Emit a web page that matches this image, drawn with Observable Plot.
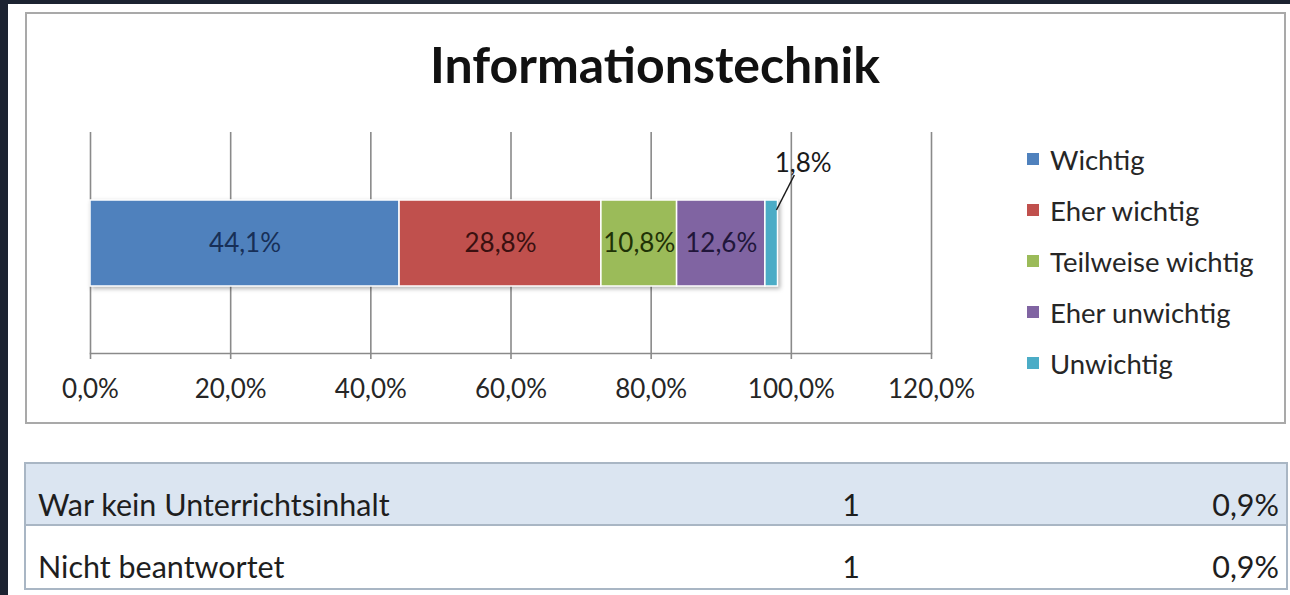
<!DOCTYPE html>
<html>
<head>
<meta charset="utf-8">
<script src="https://cdn.jsdelivr.net/npm/d3@7"></script>
<script src="https://cdn.jsdelivr.net/npm/@observablehq/plot@0.6"></script>
<style>
  html, body { margin: 0; padding: 0; background: #1c2331; }
  #page { position: relative; width: 1290px; height: 595px; overflow: hidden; background: #1c2331; font-family: Lato, "Open Sans", sans-serif; }
  #panel { position: absolute; left: 8px; top: 4px; right: 0; bottom: 0; background: #ffffff; }
  #box { position: absolute; left: 25px; top: 12px; width: 1261px; height: 412px; box-sizing: border-box; border: 2px solid #a9a9a9; }
  #title { position: absolute; left: 0; width: 1310px; top: 39px; text-align: center; font-size: 50px; line-height: 50px; font-weight: 700; color: #111; }
  #chart { position: absolute; left: 0; top: 0; }
  .leg { position: absolute; left: 1027px; height: 30px; display: flex; align-items: center; font-size: 27.5px; color: #262626; white-space: nowrap; }
  .leg .sw { width: 12px; height: 12px; margin-right: 11px; flex: none; }
  #tbl { position: absolute; left: 24px; top: 462px; width: 1264px; border-collapse: collapse; font-size: 30.5px; line-height: 30px; color: #1e1e1e; }
  #tbl td { border-top: 2px solid #a9b6c4; border-bottom: 2px solid #a9b6c4; padding: 0 0 5px 0; vertical-align: bottom; white-space: nowrap; }
  #tbl tr:first-child td { background: #dbe5f1; height: 55px; }
  #tbl tr:last-child td { height: 55px; padding-bottom: 7px; }
  #tbl td.c1 { padding-left: 12px; width: 664px; border-left: 2px solid #a9b6c4; }
  #tbl td.c2 { text-align: right; width: 158px; }
  #tbl td.c3 { text-align: right; padding-right: 7px; border-right: 2px solid #a9b6c4; }
</style>
</head>
<body>
<div id="page">
  <div id="panel"></div>
  <div id="box"></div>
  <div id="title"></div>
  <div id="chart"></div>
  <div id="legend"></div>
  <table id="tbl"></table>
</div>
<script>
// ---- data ----
const chartTitle = "Informationstechnik";
const category = "Informationstechnik";
const seriesNames = ["Wichtig", "Eher wichtig", "Teilweise wichtig", "Eher unwichtig", "Unwichtig"];
const seriesValues = [44.1, 28.8, 10.8, 12.6, 1.8];
const seriesColors = ["#4f81bd", "#c0504d", "#9bbb59", "#8064a2", "#4bacc6"];
const labelColors = ["#172f57", "#3a1010", "#1f3206", "#21163a", "#1a1a1a"];
const tickValues = [0, 20, 40, 60, 80, 100, 120];
const tickLabels = ["0,0%", "20,0%", "40,0%", "60,0%", "80,0%", "100,0%", "120,0%"];
const tableLabels = ["War kein Unterrichtsinhalt", "Nicht beantwortet"];
const tableCounts = [1, 1];
const tablePercents = ["0,9%", "0,9%"];

const fmt = v => v.toFixed(1).replace(".", ",") + "%";
const rows = seriesNames.map((s, i) => ({cat: category, series: s, value: seriesValues[i], idx: i}));
const insideRows = rows.filter(d => d.series !== "Unwichtig");
const outsideRow = rows.find(d => d.series === "Unwichtig");
const outsideEnd = d3.sum(seriesValues.slice(0, outsideRow.idx + 1));
const tickLabelOf = new Map(tickValues.map((v, i) => [v, tickLabels[i]]));

document.getElementById("title").textContent = chartTitle;

const chart = Plot.plot({
  width: 1290,
  height: 440,
  marginLeft: 90,
  marginRight: 359,
  marginTop: 132,
  marginBottom: 87,
  style: {fontFamily: "Lato, 'Open Sans', sans-serif", background: "transparent", overflow: "visible", color: "#262626"},
  x: {domain: [0, 120], label: null},
  y: {domain: [category], padding: 0.44, axis: null},
  color: {domain: seriesNames, range: seriesColors},
  marks: [
    Plot.ruleX(tickValues, {stroke: "#8a8a8a", strokeWidth: 1.6}),
    Plot.frame({anchor: "bottom", stroke: "#8a8a8a", strokeWidth: 1.6}),
    Plot.axisX({ticks: tickValues, tickFormat: d => tickLabelOf.get(d), tickSize: 6, tickPadding: 20, fontSize: 26, stroke: "#8a8a8a", fill: "#262626", strokeWidth: 1.6, label: null}),
    Plot.barX(rows, Plot.stackX({x: "value", y: "cat", fill: "series", stroke: "white", strokeWidth: 1.5})),
    Plot.text(insideRows, Plot.stackX({x: "value", y: "cat", z: "series", text: d => fmt(d.value), fill: d => labelColors[d.idx], fontSize: 26})),
    Plot.text([outsideRow], {x: () => outsideEnd + 3.6, y: "cat", text: d => fmt(d.value), fill: "#1a1a1a", fontSize: 26, dy: -80})
  ]
});
document.getElementById("chart").appendChild(chart);

// soft shadow under the bar, as in the original
d3.select(chart).selectAll('g[aria-label="bar"]').style("filter", "drop-shadow(2px 2px 2px rgba(0,0,0,0.3))");

// leader line for the small segment, placed with the plot's own scales
const xs = chart.scale("x"), ys = chart.scale("y");
const barTop = ys.apply(category);
d3.select(chart).append("line")
  .attr("x1", xs.apply(outsideEnd + 2.4)).attr("y1", barTop - 25)
  .attr("x2", xs.apply(outsideEnd - 0.15)).attr("y2", barTop + 10)
  .attr("stroke", "#1a1a1a").attr("stroke-width", 1.5);

// legend
const legend = d3.select("#legend");
seriesNames.forEach((s, i) => {
  const item = legend.append("div").attr("class", "leg").style("top", (144 + i * 51) + "px");
  item.append("div").attr("class", "sw").style("background", seriesColors[i]);
  item.append("span").text(s);
});

// table
const tbl = d3.select("#tbl");
tableLabels.forEach((t, i) => {
  const tr = tbl.append("tr");
  tr.append("td").attr("class", "c1").text(t);
  tr.append("td").attr("class", "c2").text(tableCounts[i]);
  tr.append("td").attr("class", "c3").text(tablePercents[i]);
});
</script>
</body>
</html>
